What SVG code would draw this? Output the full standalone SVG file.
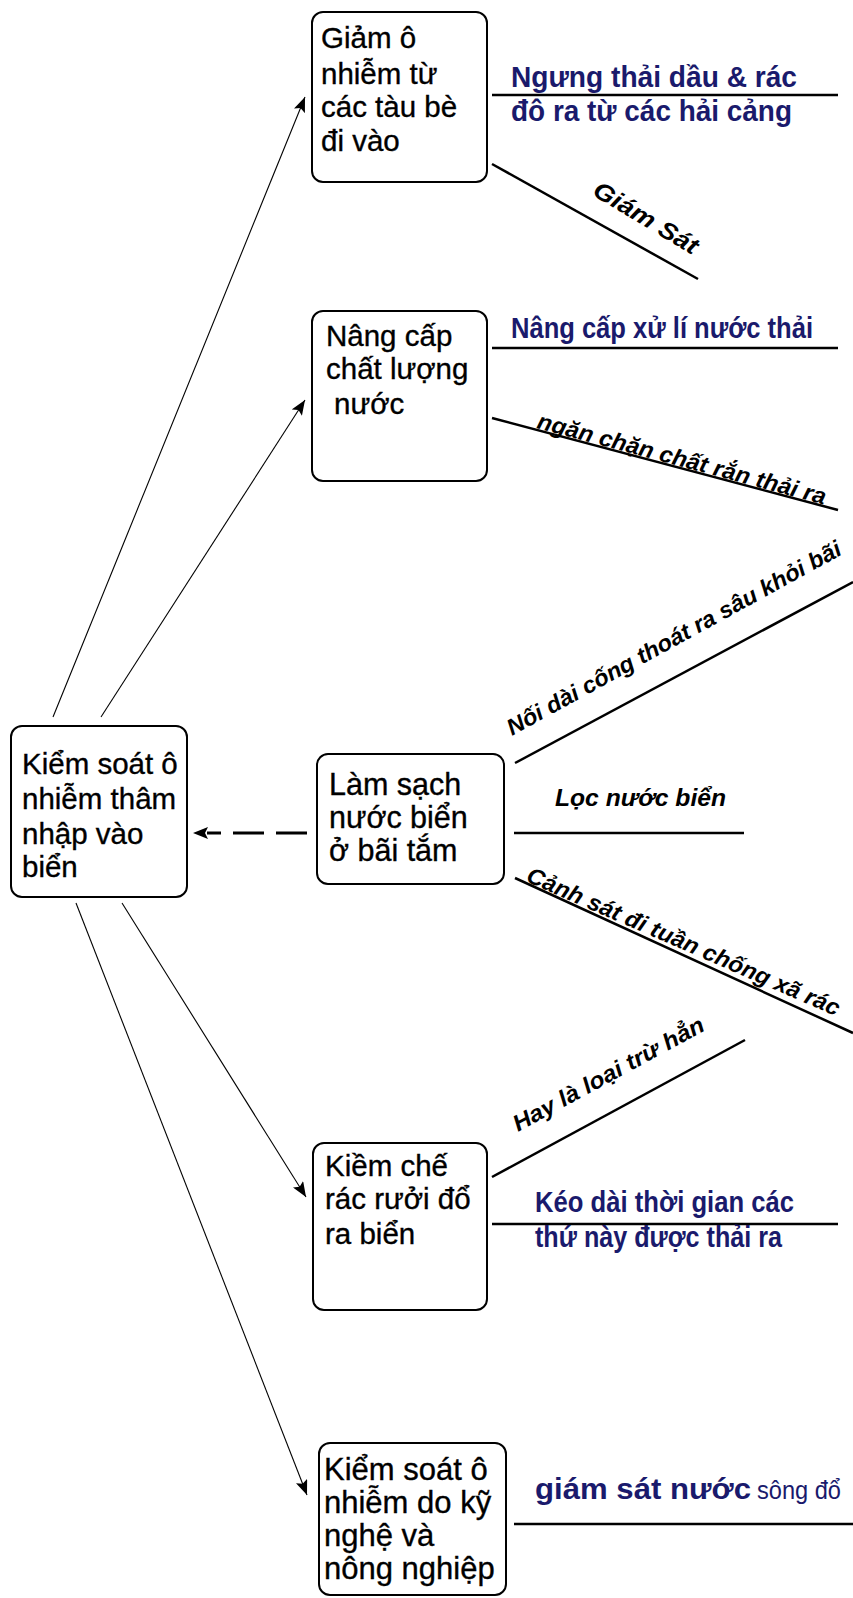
<svg xmlns="http://www.w3.org/2000/svg" width="853" height="1598" viewBox="0 0 853 1598">
<defs>
<style>
.box{fill:#fff;stroke:#000;stroke-width:2}
.nt{font-family:"Liberation Sans",Arial,sans-serif;font-size:29.5px;fill:#000;stroke:#000;stroke-width:0.35}
.lab{font-family:"Liberation Sans",Arial,sans-serif;font-weight:bold;font-style:italic;font-size:23px;fill:#000}
.nav{font-family:"Liberation Sans",Arial,sans-serif;font-weight:bold;font-size:29px;fill:#1a1a6c}
.thin{stroke:#000;stroke-width:1.1;fill:none}
.lbl{stroke:#000;stroke-width:2.5;fill:none}
</style>
<marker id="ah" markerUnits="userSpaceOnUse" markerWidth="16" markerHeight="12" refX="15" refY="6" orient="auto">
<path d="M0,0 L15,6 L0,12 L3,6 z" fill="#000"/>
</marker>
</defs>
<rect width="853" height="1598" fill="#fff"/>

<g id="connectors">
<line class="thin" x1="53" y1="717" x2="305" y2="97" marker-end="url(#ah)"/>
<line class="thin" x1="101" y1="717" x2="305" y2="400" marker-end="url(#ah)"/>
<line class="thin" x1="122" y1="903" x2="306" y2="1197" marker-end="url(#ah)"/>
<line class="thin" x1="76" y1="903" x2="307" y2="1495" marker-end="url(#ah)"/>
<path d="M307,833 L207,833" stroke="#000" stroke-width="3" stroke-dasharray="31 12" fill="none"/>
<polygon points="193,833 208,827 205,833 208,839" fill="#000"/>
<line class="lbl" x1="492" y1="95" x2="838" y2="95"/>
<line class="lbl" x1="492" y1="164" x2="698" y2="279"/>
<line class="lbl" x1="492" y1="348" x2="838" y2="348"/>
<line class="lbl" x1="492" y1="418" x2="838" y2="510"/>
<line class="lbl" x1="515" y1="763" x2="853" y2="582"/>
<line class="lbl" x1="514" y1="833" x2="744" y2="833"/>
<line class="lbl" x1="515" y1="878" x2="853" y2="1033"/>
<line class="lbl" x1="492" y1="1177" x2="745" y2="1040"/>
<line class="lbl" x1="492" y1="1224" x2="838" y2="1224"/>
<line class="lbl" x1="514" y1="1524" x2="853" y2="1524"/>
</g>

<g id="edge-labels">
<text class="nav" x="511" y="87" textLength="286" lengthAdjust="spacingAndGlyphs">Ngưng thải dầu &amp; rác</text>
<text class="nav" x="511" y="121" textLength="281" lengthAdjust="spacingAndGlyphs">đô ra từ các hải cảng</text>
<text class="lab" transform="translate(646,218) rotate(31)" x="0" y="8" text-anchor="middle" style="font-size:24px" textLength="118" lengthAdjust="spacingAndGlyphs">Giám Sát</text>
<text class="nav" x="511" y="338" textLength="302" lengthAdjust="spacingAndGlyphs">Nâng cấp xử lí nước thải</text>
<text class="lab" transform="translate(536,428) rotate(14.9)" x="0" y="0" textLength="298" lengthAdjust="spacingAndGlyphs">ngăn chặn chất rắn thải ra</text>
<text class="lab" transform="translate(512,736) rotate(-28.8)" x="0" y="0" textLength="378" lengthAdjust="spacingAndGlyphs">Nối dài cống thoát ra sâu khỏi bãi</text>
<text class="lab" x="555" y="806" textLength="171" lengthAdjust="spacingAndGlyphs">Lọc nước biển</text>
<text class="lab" transform="translate(525,881) rotate(23.5)" x="0" y="0" textLength="339" lengthAdjust="spacingAndGlyphs">Cảnh sát đi tuần chống xã rác</text>
<text class="lab" transform="translate(518,1132) rotate(-28.5)" x="0" y="0" textLength="214" lengthAdjust="spacingAndGlyphs">Hay là loại trừ hẳn</text>
<text class="nav" x="535" y="1212" textLength="259" lengthAdjust="spacingAndGlyphs">Kéo dài thời gian các</text>
<text class="nav" x="535" y="1247" textLength="247" lengthAdjust="spacingAndGlyphs">thứ này được thải ra</text>
<text class="nav" x="535" y="1499" textLength="216" lengthAdjust="spacingAndGlyphs">giám sát nước</text>
<text class="nav" x="757" y="1499" style="font-weight:normal;font-size:25px" textLength="84" lengthAdjust="spacingAndGlyphs">sông đổ</text>
</g>

<g id="node-giam">
<rect class="box" x="312" y="12" width="175" height="170" rx="11"/>
<text class="nt" x="321" y="48">Giảm ô</text>
<text class="nt" x="321" y="84">nhiễm từ</text>
<text class="nt" x="321" y="117">các tàu bè</text>
<text class="nt" x="321" y="151">đi vào</text>
</g>

<g id="node-nangcap">
<rect class="box" x="312" y="311" width="175" height="170" rx="11"/>
<text class="nt" x="326" y="346">Nâng cấp</text>
<text class="nt" x="326" y="379">chất lượng</text>
<text class="nt" x="334" y="414">nước</text>
</g>

<g id="node-kiemsoat">
<rect class="box" x="11" y="726" width="176" height="171" rx="11"/>
<text class="nt" x="22" y="774">Kiểm soát ô</text>
<text class="nt" x="22" y="809">nhiễm thâm</text>
<text class="nt" x="22" y="844">nhập vào</text>
<text class="nt" x="22" y="877">biển</text>
</g>

<g id="node-lamsach">
<rect class="box" x="317" y="754" width="187" height="130" rx="11"/>
<text class="nt" x="329" y="795" style="font-size:30.5px">Làm sạch</text>
<text class="nt" x="329" y="828" style="font-size:30.5px">nước biển</text>
<text class="nt" x="329" y="861" style="font-size:30.5px">ở bãi tắm</text>
</g>

<g id="node-kiemche">
<rect class="box" x="313" y="1143" width="174" height="167" rx="11"/>
<text class="nt" x="325" y="1176">Kiềm chế</text>
<text class="nt" x="325" y="1209">rác rưởi đổ</text>
<text class="nt" x="325" y="1244">ra biển</text>
</g>

<g id="node-kynghe">
<rect class="box" x="319" y="1443" width="187" height="152" rx="11"/>
<text class="nt" x="324" y="1480" style="font-size:31px">Kiểm soát ô</text>
<text class="nt" x="324" y="1513" style="font-size:31px">nhiễm do kỹ</text>
<text class="nt" x="324" y="1546" style="font-size:31px">nghệ và</text>
<text class="nt" x="324" y="1579" style="font-size:31px">nông nghiệp</text>
</g>
</svg>
